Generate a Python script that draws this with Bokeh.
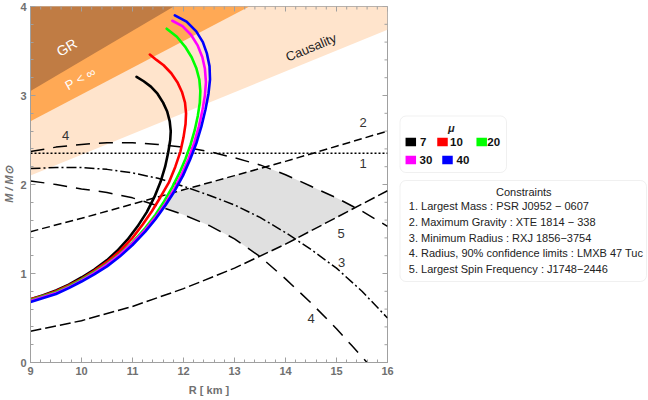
import numpy as np
from bokeh.plotting import figure
from bokeh.layouts import row
from bokeh.models import Range1d, SingleIntervalTicker, BoxAnnotation, Label
from bokeh.core.properties import value
from bokeh.embed import file_html
from bokeh.resources import INLINE

# ---------------- data (R in km, M in solar masses) ----------------
mu_labels = ["7", "10", "20", "30", "40"]
mu_colors = ["#000000", "#FF0000", "#00FF00", "#FF00FF", "#0000FF"]

R_mu7 = [9.00, 9.25, 9.50, 9.75, 10.00, 10.25, 10.50, 10.70, 10.90, 11.10, 11.28, 11.43, 11.55, 11.64, 11.70,
         11.74, 11.75, 11.73, 11.68, 11.60, 11.49, 11.36, 11.22, 11.08]
M_mu7 = [0.71, 0.755, 0.81, 0.875, 0.955, 1.045, 1.15, 1.255, 1.38, 1.53, 1.69, 1.86, 2.03, 2.20, 2.36,
         2.50, 2.60, 2.71, 2.82, 2.92, 3.02, 3.10, 3.16, 3.21]

R_mu10 = [9.00, 9.25, 9.50, 9.75, 10.00, 10.25, 10.50, 10.75, 11.00, 11.20, 11.38, 11.55, 11.72, 11.84, 11.94,
          12.00, 12.04, 12.05, 12.03, 11.97, 11.88, 11.76, 11.61, 11.47, 11.34]
M_mu10 = [0.71, 0.75, 0.80, 0.865, 0.94, 1.03, 1.13, 1.25, 1.40, 1.55, 1.70, 1.86, 2.03, 2.20, 2.37,
          2.53, 2.68, 2.80, 2.92, 3.04, 3.15, 3.25, 3.34, 3.40, 3.46]

R_mu20 = [9.00, 9.25, 9.50, 9.75, 10.00, 10.25, 10.50, 10.75, 11.00, 11.25, 11.45, 11.62, 11.78, 11.92, 12.04,
          12.14, 12.22, 12.28, 12.32, 12.33, 12.31, 12.25, 12.16, 12.03, 11.87, 11.67]
M_mu20 = [0.70, 0.745, 0.79, 0.855, 0.93, 1.015, 1.11, 1.22, 1.35, 1.51, 1.66, 1.81, 1.97, 2.13, 2.29,
          2.45, 2.61, 2.77, 2.92, 3.05, 3.18, 3.31, 3.43, 3.55, 3.66, 3.75]

R_mu30 = [9.00, 9.25, 9.50, 9.75, 10.00, 10.25, 10.50, 10.75, 11.00, 11.25, 11.45, 11.65, 11.82, 11.97, 12.10,
          12.21, 12.30, 12.37, 12.42, 12.44, 12.42, 12.37, 12.28, 12.15, 11.98, 11.78]
M_mu30 = [0.69, 0.735, 0.78, 0.845, 0.92, 1.005, 1.10, 1.21, 1.34, 1.49, 1.63, 1.79, 1.95, 2.12, 2.29,
          2.47, 2.65, 2.83, 3.00, 3.15, 3.30, 3.43, 3.56, 3.68, 3.78, 3.84]

R_mu40 = [9.00, 9.25, 9.50, 9.75, 10.00, 10.25, 10.50, 10.75, 11.00, 11.25, 11.45, 11.65, 11.83, 11.99, 12.13,
          12.25, 12.35, 12.43, 12.49, 12.52, 12.51, 12.46, 12.38, 12.25, 12.06, 11.83]
M_mu40 = [0.68, 0.725, 0.77, 0.835, 0.91, 0.99, 1.08, 1.19, 1.32, 1.47, 1.61, 1.77, 1.93, 2.10, 2.28,
          2.46, 2.65, 2.84, 3.02, 3.18, 3.33, 3.47, 3.60, 3.72, 3.83, 3.90]

# excluded regions (boundary lines)
gr_R = [9.0, 11.81]
gr_M = [3.05, 4.0]
buch_R = [9.0, 13.29]
buch_M = [2.71, 4.0]
caus_R = [9.0, 16.0]
caus_M = [2.10, 3.74]

# observational constraints
c1_R = [9.0, 16.0]
c1_M = [2.35, 2.35]
c2_R = [9, 10, 11, 12, 13, 14, 15, 16]
c2_M = [1.47, 1.62, 1.78, 1.94, 2.10, 2.26, 2.43, 2.60]
c3_R = [9, 9.5, 10, 10.5, 11, 11.5, 12, 12.5, 13, 13.5, 14, 14.5, 15, 15.5, 16]
c3_M = [2.18, 2.19, 2.19, 2.17, 2.13, 2.07, 1.98, 1.88, 1.77, 1.63, 1.46, 1.27, 1.06, 0.80, 0.50]
c4u_R = [9, 9.5, 10, 10.5, 11, 11.5, 12, 12.5, 13, 13.5, 14, 14.5, 15, 15.5, 16]
c4u_M = [2.37, 2.42, 2.45, 2.47, 2.47, 2.45, 2.42, 2.37, 2.30, 2.22, 2.11, 1.98, 1.85, 1.70, 1.53]
c4l_R = [9, 9.5, 10, 10.5, 11, 11.5, 12, 12.5, 13, 13.5, 14, 14.5, 15, 15.3, 15.6]
c4l_M = [2.04, 2.00, 1.95, 1.91, 1.85, 1.76, 1.66, 1.54, 1.39, 1.19, 0.94, 0.67, 0.38, 0.19, 0.0]
c5_R = [9, 10, 11, 12, 13, 14, 15, 16]
c5_M = [0.35, 0.47, 0.63, 0.83, 1.06, 1.33, 1.63, 1.93]

curve_label_txt = ["4", "2", "1", "5", "3", "4"]
curve_label_R = [9.69, 15.52, 15.52, 15.09, 15.10, 14.50]
curve_label_M = [2.55, 2.70, 2.24, 1.45, 1.125, 0.50]

R_major_ticks = [9, 10, 11, 12, 13, 14, 15, 16]
M_major_ticks = [0, 1, 2, 3, 4]

constraint_items = [
    "1. Largest Mass : PSR J0952 \u2212 0607",
    "2. Maximum Gravity : XTE 1814 \u2212 338",
    "3. Minimum Radius : RXJ 1856\u22123754",
    "4. Radius, 90% confidence limits : LMXB 47 Tuc",
    "5. Largest Spin Frequency : J1748\u22122446",
]

FONT = "Liberation Sans"
R_MIN, R_MAX, M_MIN, M_MAX = 9.0, 16.0, 0.0, 4.0
AX_COL = "#a0a0a0"
LAB_COL = "#707070"

OFF = 2                 # page offset of the canvas
BT, BB = 6, 36          # top / bottom borders (px)
FH = 356                # frame height
BL, FW, BR = 28, 357, 10
W2 = 250

# ---------------- main plot ----------------
p = figure(frame_width=FW, frame_height=FH, x_range=Range1d(R_MIN, R_MAX), y_range=Range1d(M_MIN, M_MAX),
           output_backend="svg", toolbar_location=None,
           min_border_left=BL, min_border_right=BR, min_border_top=BT, min_border_bottom=BB)
p.xgrid.visible = False
p.ygrid.visible = False
p.outline_line_color = AX_COL
p.background_fill_color = "white"
p.border_fill_color = "white"

for ax in p.xaxis + p.yaxis:
    ax.ticker = SingleIntervalTicker(interval=1, num_minor_ticks=5)
    ax.axis_line_color = AX_COL
    ax.major_tick_line_color = AX_COL
    ax.minor_tick_line_color = AX_COL
    ax.major_tick_in = 5
    ax.major_tick_out = 0
    ax.minor_tick_in = 3
    ax.minor_tick_out = 0
    ax.major_label_text_font = FONT
    ax.major_label_text_font_style = "bold"
    ax.major_label_text_color = LAB_COL
    ax.major_label_text_font_size = "11px"
    ax.axis_label_text_font = FONT
    ax.axis_label_text_color = LAB_COL
    ax.axis_label_text_font_size = "11px"
p.xaxis.major_label_standoff = 4
p.xaxis.axis_label_standoff = 6
p.yaxis.major_label_standoff = 4
p.yaxis.axis_label_standoff = 2
p.xaxis.axis_label = "R [ km ]"
p.xaxis.axis_label_text_font_style = "bold"
p.yaxis.axis_label = "M / M\u2299"
p.yaxis.axis_label_text_font_style = "bold italic"

# excluded regions
p.patch(caus_R + [R_MAX, R_MIN], caus_M + [M_MAX, M_MAX], fill_color="#FFE4CC", line_color=None)
p.patch(buch_R + [R_MIN], buch_M + [M_MAX], fill_color="#FFA955", line_color=None)
p.patch(gr_R + [R_MIN], gr_M + [M_MAX], fill_color="#C07C44", line_color=None)

# allowed (shaded) region from constraints
Rg = np.linspace(11.0, 16.0, 1001)
kmax = int(np.argmax(R_mu40))
top = np.minimum(np.interp(Rg, c2_R, c2_M), np.interp(Rg, c4u_R, c4u_M))
top = np.minimum(top, np.interp(Rg, R_mu40[:kmax + 1], M_mu40[:kmax + 1], right=10.0))
bot = np.maximum(np.interp(Rg, c4l_R, c4l_M), np.interp(Rg, c5_R, c5_M))
mask = top > bot
sx = np.concatenate([Rg[mask], Rg[mask][::-1]])
sy = np.concatenate([top[mask], bot[mask][::-1]])
p.patch(sx, sy, fill_color="#E0E0E0", line_color=None)

# frame ticks on the top and right edges (half of each dash is clipped by the frame)
minor_R = [t + k * 0.2 for t in R_major_ticks[:-1] for k in range(1, 5)]
minor_M = [t + k * 0.2 for t in M_major_ticks[:-1] for k in range(1, 5)]
p.scatter(R_major_ticks, [M_MAX] * len(R_major_ticks), marker="dash", size=10, angle=np.pi / 2,
          line_color=AX_COL, line_width=1)
p.scatter(minor_R, [M_MAX] * len(minor_R), marker="dash", size=6, angle=np.pi / 2,
          line_color=AX_COL, line_width=1)
p.scatter([R_MAX] * len(M_major_ticks), M_major_ticks, marker="dash", size=10,
          line_color=AX_COL, line_width=1)
p.scatter([R_MAX] * len(minor_M), minor_M, marker="dash", size=6,
          line_color=AX_COL, line_width=1)

# constraint lines
p.line(c1_R, c1_M, line_color="black", line_width=1.5, line_dash="2 2")
p.line(c2_R, c2_M, line_color="black", line_width=1.5, line_dash="8 4")
p.line(c3_R, c3_M, line_color="black", line_width=1.5, line_dash="10 3 2 3")
p.line(c4u_R, c4u_M, line_color="black", line_width=1.5, line_dash="14 9")
p.line(c4l_R, c4l_M, line_color="black", line_width=1.5, line_dash="14 9")
p.line(c5_R, c5_M, line_color="black", line_width=1.5, line_dash="11 4")

# M-R curves
for Rs, Ms, col in zip([R_mu7, R_mu10, R_mu20, R_mu30, R_mu40],
                       [M_mu7, M_mu10, M_mu20, M_mu30, M_mu40], mu_colors):
    p.line(Rs, Ms, line_color=col, line_width=2.6, line_join="round", line_cap="round")

# curve number labels
p.text(x=curve_label_R, y=curve_label_M, text=curve_label_txt, text_font=value(FONT),
       text_font_size="13px", text_color="#333333", text_align="center", text_baseline="middle")

# region labels
p.add_layout(Label(x=9.71, y=3.54, text="GR", angle=30.5, angle_units="deg", text_color="white",
                   text_font=FONT, text_font_size="14px", text_align="center", text_baseline="middle"))
p.add_layout(Label(x=9.98, y=3.19, text="P < \u221e", angle=29, angle_units="deg", text_color="white",
                   text_font=FONT, text_font_size="13px", text_align="center", text_baseline="middle"))
p.add_layout(Label(x=14.5, y=3.54, text="Causality", angle=22.5, angle_units="deg", text_color="#222222",
                   text_font=FONT, text_font_size="13px", text_align="center", text_baseline="middle"))

# ---------------- legend panel (data units = page pixels) ----------------
X0 = OFF + BL + FW + BR   # page x of the panel's left edge
p2 = figure(frame_width=W2, frame_height=FH, x_range=Range1d(X0, X0 + W2),
            y_range=Range1d(OFF + BT + FH, OFF + BT),
            output_backend="svg", toolbar_location=None,
            min_border_left=0, min_border_right=0, min_border_top=BT, min_border_bottom=BB,
            x_axis_type=None, y_axis_type=None)
p2.xgrid.visible = False
p2.ygrid.visible = False
p2.outline_line_color = None

p2.add_layout(BoxAnnotation(left=399.5, right=506, top=117.5, bottom=174, fill_color="white", fill_alpha=1,
                            line_color="#cccccc", line_width=1, border_radius=6, level="underlay"))
p2.add_layout(BoxAnnotation(left=399.5, right=646, top=182, bottom=283, fill_color="white", fill_alpha=1,
                            line_color="#cccccc", line_width=1, border_radius=6, level="underlay"))

p2.text(x=[450.7], y=[129.3], text=["\u03bc"], text_font=value(FONT), text_font_style="bold italic",
        text_font_size="11px", text_color="#222222", text_align="center", text_baseline="middle")

sq_x = [410.3, 442.0, 481.2, 410.3, 447.0]
sq_y = [143.5, 143.5, 143.5, 161.5, 161.5]
tx_x = [419.5, 449.5, 486.8, 419.0, 456.0]
p2.rect(x=sq_x, y=sq_y, width=10.5, height=8.5, fill_color=mu_colors, line_color=None)
p2.text(x=tx_x, y=sq_y, text=mu_labels, text_font=value(FONT), text_font_style="bold",
        text_font_size="11.5px", text_color="#111111", text_align="left", text_baseline="middle")

p2.text(x=[523.3], y=[193.3], text=["Constraints"], text_font=value(FONT), text_font_size="11px",
        text_color="#222222", text_align="center", text_baseline="middle")
p2.text(x=[408.3] * 5, y=[207.7, 223.3, 239.0, 254.3, 270.0], text=constraint_items, text_font=value(FONT),
        text_font_size="11px", text_color="#222222", text_align="left", text_baseline="middle")

layout = row(p, p2)
open("out.html", "w").write(file_html(layout, INLINE))
